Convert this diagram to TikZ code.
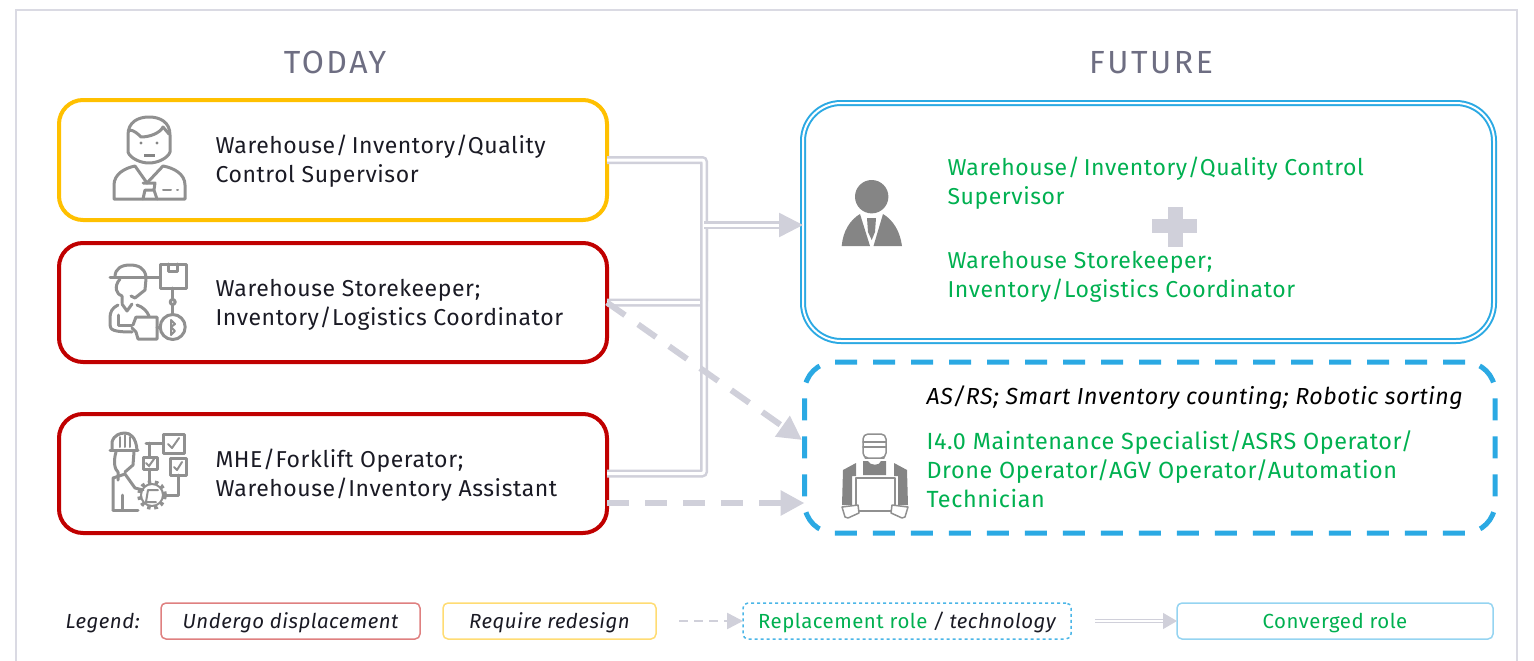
\documentclass[tikz,border=0pt]{standalone}
\usepackage{fontspec}
\setmainfont[LetterSpace=2.5]{Fira Sans}
\usetikzlibrary{arrows.meta}
\definecolor{frameGray}{HTML}{DADAE3}
\definecolor{lineGray}{HTML}{D0D0DA}
\definecolor{iconGray}{HTML}{858585}
\definecolor{outlineGray}{HTML}{909090}
\definecolor{headGray}{HTML}{6E6E82}
\definecolor{textDark}{HTML}{1A1A24}
\definecolor{roleRed}{HTML}{C00000}
\definecolor{roleYellow}{HTML}{FFC000}
\definecolor{roleBlue}{HTML}{2BA9E3}
\definecolor{roleGreen}{HTML}{00B050}
\tikzset{
  heading/.style={text=headGray,font=\fontsize{32}{36}\selectfont\addfontfeature{LetterSpace=8}},
  rolebox/.style={draw,line width=4pt,outer sep=0pt,rounded corners=24pt,minimum height=119pt,minimum width=548pt,anchor=north west},
  roletext/.style={anchor=west,align=left,text=textDark,font=\fontsize{23}{29}\selectfont},
  greentext/.style={roletext,text=roleGreen},
  convline/.style={draw=lineGray,line width=2.5pt,double=white,double distance=3pt,rounded corners=2pt},
  convarrow/.style={convline,-{Triangle[length=24pt,width=24pt,fill=lineGray]}},
  replarrow/.style={draw=lineGray,line width=6pt,dash pattern=on 22pt off 16pt,-{Triangle[length=24pt,width=24pt,fill=lineGray]}},
  legendbox/.style={draw,line width=1.5pt,outer sep=0pt,rounded corners=5pt,minimum height=36pt,anchor=north west,text height=17pt,text depth=3pt,font=\fontsize{20.4}{24}\selectfont},
  legendtext/.style={font=\fontsize{20.4}{24}\selectfont\itshape,text=textDark,text height=17pt,text depth=3pt},
  iconline/.style={draw=outlineGray,line width=3pt,line join=round,line cap=round},
  iconfill/.style={fill=iconGray},
}
\begin{document}
\begin{tikzpicture}[x=1pt,y=-1pt]
\useasboundingbox (0,0) rectangle (1534,661);

\draw[frameGray,line width=2pt] (16,661) -- (16,10) -- (1517,10) -- (1517,661);

\node[heading] (today) at (335,62) {TODAY};
\node[heading] (future) at (1151,62.5) {FUTURE};

\node[rolebox,draw=roleYellow,minimum height=120pt] (supervisor) at (59,100) {};
\node[rolebox,draw=roleRed] (storekeeper) at (59,243) {};
\node[rolebox,draw=roleRed] (operator) at (59,414) {};

\node[roletext] (supervisortext) at (212,161.5) {Warehouse/\hspace{4pt}Inventory/Quality\\Control Supervisor};
\node[roletext] (storekeepertext) at (212,304.5) {Warehouse Storekeeper;\\Inventory/Logistics Coordinator};
\node[roletext] (operatortext) at (212,475) {MHE/Forklift Operator;\\Warehouse/Inventory Assistant};

\node[draw=roleBlue,line width=2pt,double=white,double distance=2pt,outer sep=0pt,rounded corners=38pt,minimum width=691pt,minimum height=238pt,anchor=north west] (converged) at (803,103) {};
\node[draw=roleBlue,line width=5pt,dash pattern=on 22pt off 16pt,outer sep=0pt,rounded corners=30pt,minimum width=690.5pt,minimum height=171pt,anchor=north west] (replacement) at (804.5,362) {};

\node[greentext] (convergedone) at (944,183) {Warehouse/\hspace{4pt}Inventory/Quality Control\\Supervisor};
\node[greentext] (convergedtwo) at (944,276.5) {Warehouse Storekeeper;\\Inventory/Logistics Coordinator};
\node[roletext,font=\fontsize{23.2}{29}\selectfont\itshape,text=black] (technology) at (923,398) {AS/RS; Smart Inventory counting; Robotic sorting};
\node[greentext,font=\fontsize{23.4}{29}\selectfont] (replacementtext) at (923,469.5) {I4.0 Maintenance Specialist/ASRS Operator/\\Drone Operator/AGV Operator/Automation\\Technician};

\fill[lineGray] (1168,207) rectangle (1183,247);
\fill[lineGray] (1152,219) rectangle (1197,233);

\coordinate (trunk) at (704,225);
\coordinate (operatorout) at (operator.east |- 0,503);
\draw[convline] (supervisor.east) -- (704,160) -- (trunk);
\draw[convline] (storekeeper.east) -- (704,302.5) -- (trunk);
\draw[convline] (operator.east) -- (704,473.5) -- (trunk);
\draw[convarrow] (trunk) -- (converged.west |- trunk);
\draw[replarrow] (storekeeper.east) -- (802,440);
\draw[replarrow] (operatorout) -- (replacement.west |- operatorout);

% supervisor
\draw[iconline] (128,152) -- (128,135) .. controls (128,122) and (138,117) .. (149,117) .. controls (160,117) and (170,122) .. (170,135) -- (170,152) .. controls (168,158) and (158,163) .. (149,163) .. controls (140,163) and (130,158) .. (128,152);
\draw[iconline] (129,130) .. controls (134,130) and (138,134) .. (141,137) .. controls (150,137) and (160,133) .. (163,127) -- (169,134);
\fill[iconfill] (141,143) circle (1.7pt) (157,143) circle (1.7pt);
\fill[iconfill] (144,154) rectangle (155,157);
\draw[iconline] (114,199) -- (114,185) .. controls (114,174) and (125,168) .. (135,166) -- (147,183) -- (163,166) .. controls (174,168) and (185,174) .. (185,185) -- (185,199) -- cycle;
\draw[iconline] (143,183) -- (155,183) -- (154,190) -- (157,199) (145,190) -- (143,199) (145,190) -- (154,190);
\draw[iconline,line width=2pt] (163,190) -- (171,190) (177,190) -- (178,190);

% storekeeper
\draw[iconline] (110,277) -- (160,277);
\draw[iconline] (115,277) .. controls (115,268) and (122,265) .. (130,265) .. controls (138,265) and (145,268) .. (146,277);
\draw[iconline] (160,264) rectangle (186,288) (168,264) -- (168,271) -- (177,271) -- (177,264);
\draw[iconline] (172.7,288) -- (172.7,314);
\draw[iconline,fill=white] (172.7,302) circle (2.5pt);
\draw[iconline] (172.7,327) circle (12.5pt);
\draw[iconline,line width=2pt] (171,320) -- (175,324) -- (171,327) -- (175,331) -- (171,335) -- cycle;
\draw[iconline] (120,279) .. controls (113,287) and (117,295) .. (122,296) -- (122,303) (146,279) -- (145,290) -- (135,298) -- (131,296);
\draw[iconline] (118,305) .. controls (112,308) and (110,312) .. (110,318) -- (110,325) .. controls (110,330) and (114,332) .. (132,332);
\draw[iconline] (137,305) .. controls (143,307) and (147,311) .. (149,316);
\draw[iconline] (122,304) -- (127,311) -- (132,304);
\draw[iconline] (118,315) -- (118,325) -- (132,325);
\draw[iconline] (136,317) -- (157,317) -- (157,339) -- (138,339) -- (136,332) -- (132,328) (136,317) -- (133,325);
\draw[iconline] (157,327) -- (160,327);

% operator
\draw[iconline] (110,450) -- (138,450);
\draw[iconline] (112,450) -- (112,442) .. controls (114,435) and (120,433) .. (125,433) .. controls (130,433) and (136,437) .. (137,450);
\draw[iconline,line width=2pt] (120,437) -- (120,447) (125,435) -- (125,447) (130,437) -- (130,447);
\draw[iconline] (116,452) .. controls (113,462) and (115,470) .. (118,472) -- (118,480) (134,452) -- (133,465) -- (125,472);
\draw[iconline] (113,510) -- (113,478) -- (125,474) -- (135,488) -- (143,490);
\draw[iconline] (113,510) -- (138,510) (122,495) -- (122,510);
\draw[iconline] (163,434) rectangle (184,453);
\draw[iconline] (143,457) rectangle (157,469);
\draw[iconline] (170,458) rectangle (186,475);
\draw[iconline,line width=2pt] (168,444) -- (172,448) -- (179,438) (146,463) -- (149,466) -- (154,459) (174,467) -- (177,470) -- (182,462);
\draw[iconline] (146,443) -- (163,443) (149,443) -- (149,457) (149,469) -- (149,481) (178,475) -- (178,495) -- (165,495);
\draw[iconline,line width=4pt,dash pattern=on 3.5pt off 3.5pt,line cap=butt] (152,495) circle (13pt);
\draw[iconline,line width=2pt] (152,495) circle (11pt);
\draw[iconline,line width=2pt] (158,490) -- (148,490) -- (146,502) -- (156,502);

% converged person
\fill[iconfill] (871.7,196.7) circle (16.7pt);
\fill[iconfill] (841.7,246) .. controls (843,231) and (850,220) .. (860,214) -- (870,246) -- cycle;
\fill[iconfill] (902,246) .. controls (900,231) and (893,220) .. (883,214) -- (873.5,246) -- cycle;
\fill[iconfill] (867,218) -- (876,218) -- (875,232) -- (871.7,240) -- (868,232) -- cycle;

% replacement worker
\draw[iconline,line width=1.5pt,rounded corners=5pt] (863,458) -- (863,434) -- (886,434) -- (886,458) -- (879,458) -- (870,458) -- cycle;
\draw[iconline,line width=1.5pt] (863,442) -- (886,442) (863,447) -- (886,447);
\fill[iconfill] (863,461) -- (868,461) .. controls (870,466) and (880,466) .. (881,461) -- (886,461) -- (886,475) -- (863,475) -- cycle;
\fill[iconfill] (856,463) -- (843,470) -- (842,505) -- (852,505) -- (852,476) -- (856,476) -- cycle;
\fill[iconfill] (894,463) -- (907,470) -- (908,505) -- (898,505) -- (898,476) -- (894,476) -- cycle;
\draw[iconline,line width=1.5pt] (856,478) rectangle (895,511);
\draw[iconline,line width=1.5pt,fill=white] (842,507) -- (858,505) -- (859,513) -- (848,518) -- (845,517) -- cycle;
\draw[iconline,line width=1.5pt,fill=white] (908,507) -- (892,505) -- (891,513) -- (902,518) -- (905,517) -- cycle;

% legend
\node[legendtext,anchor=west] (legend) at (62,621) {Legend:};
\node[legendbox,legendtext,draw=roleRed!50,minimum width=259pt] (displacement) at (161,603) {Undergo displacement};
\node[legendbox,legendtext,draw=roleYellow!55,minimum width=213pt] (redesign) at (443,603) {Require redesign};
\node[legendbox,draw=roleBlue!85,dashed,minimum width=328pt,text=roleGreen] (replacementkey) at (743,603) {Replacement role \textcolor{textDark}{\itshape / technology}};
\node[legendbox,draw=roleBlue!50,minimum width=316pt,text=roleGreen] (convergedkey) at (1177,603) {Converged role};

\coordinate (replstart) at (679,621);
\coordinate (convstart) at (1095,621);
\draw[draw=lineGray,line width=2.5pt,dash pattern=on 9pt off 6pt,-{Triangle[length=16pt,width=16pt,fill=lineGray]}] (replstart) -- (replacementkey.west);
\draw[draw=lineGray,line width=1.2pt,double=white,double distance=1.2pt,-{Triangle[length=14pt,width=16pt,fill=lineGray]}] (convstart) -- (convergedkey.west);

\end{tikzpicture}
\end{document}
